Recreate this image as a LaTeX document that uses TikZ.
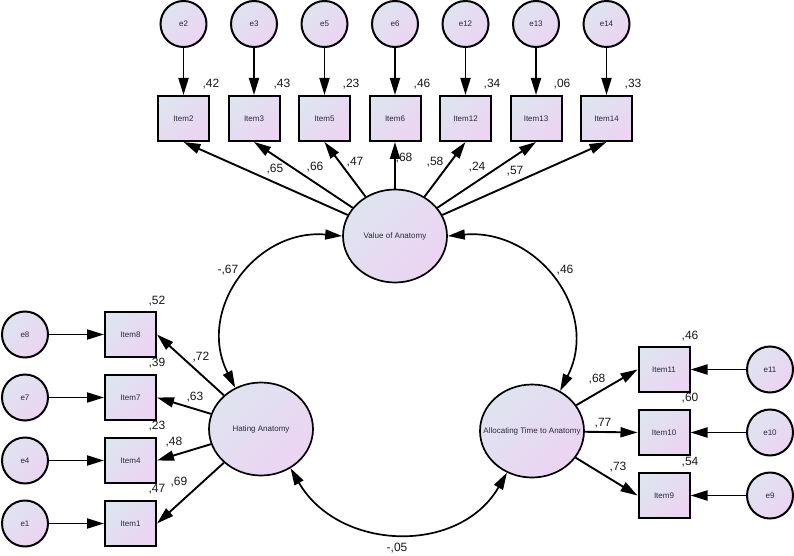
\documentclass[tikz,border=0pt]{standalone}
\usepackage{fontspec}
\setmainfont{Liberation Sans}
\usetikzlibrary{shapes.geometric,arrows.meta}
\definecolor{ga}{RGB}{222,228,240}
\definecolor{gb}{RGB}{236,212,242}
\definecolor{txt}{RGB}{40,40,60}
\tikzset{
 grad/.style={top color=ga,bottom color=gb,shading angle=45},
 obs/.style={grad,draw=black,line width=2pt,rectangle,minimum width=51pt,minimum height=45pt,inner sep=0pt,font=\fontsize{8}{9}\selectfont,text=txt},
 err/.style={grad,draw=black,line width=2pt,circle,minimum size=46pt,inner sep=0pt,font=\fontsize{8}{9}\selectfont,text=txt},
 lat/.style={grad,draw=black,line width=1.7pt,ellipse,minimum width=104pt,minimum height=93pt,inner sep=0pt},
 lattext/.style={font=\fontsize{8}{9}\selectfont,text=txt,inner sep=0pt},
 arr/.style={line width=1.9pt,-{Triangle[length=17pt,width=10pt]}},
 cov/.style={line width=1.7pt,{Triangle[length=17pt,width=10pt]}-{Triangle[length=17pt,width=10pt]}},
 num/.style={font=\fontsize{12}{14}\selectfont,text=black!90,inner sep=0pt},
}
\begin{document}
\begin{tikzpicture}[x=1pt,y=1pt]
\useasboundingbox[fill=white] (0,0) rectangle (794,-556);
% latent variables
\node[lat,label={[lattext]center:Value of Anatomy}] (val) at (395,-236) {};
\node[lat,label={[lattext]center:Hating Anatomy}] (hat) at (261,-429) {};
\node[lat,label={[lattext]center:Allocating Time to Anatomy}] (alo) at (532,-431) {};
% top items
\foreach \n/\x in {2/183.5,3/254,5/324.5,6/395,12/465.5,13/536,14/606.5}{
  \node[err] (e\n) at (\x,-24) {e\n};
  \node[obs] (i\n) at (\x,-118.5) {Item\n};
  \draw[arr] (e\n) -- (i\n);
  \draw[arr] (val) -- (i\n.south);
}
% left items
\foreach \n/\y in {8/334.5,7/397.5,4/460.5,1/523.5}{
  \node[err] (e\n) at (25,-\y) {e\n};
  \node[obs] (i\n) at (130.5,-\y) {Item\n};
  \draw[arr] (e\n) -- (i\n);
  \draw[arr] (hat) -- (i\n.east);
}
% right items
\foreach \n/\y in {11/369.5,10/432.5,9/495.5}{
  \node[err] (e\n) at (770,-\y) {e\n};
  \node[obs] (i\n) at (664,-\y) {Item\n};
  \draw[arr] (e\n) -- (i\n);
  \draw[arr] (alo) -- (i\n.west);
}
% covariances
\draw[cov] (val.west) to[out=175,in=117,looseness=1.2] (hat.122);
\draw[cov] (val.east) to[out=5,in=63,looseness=1.2] (alo.55);
\draw[cov] (hat.-53) to[out=-60,in=-120,looseness=1.13] (alo.-121);
% squared multiple correlations
\node[num] (r2) at (211,-84) {,42};
\node[num] (r3) at (282,-84) {,43};
\node[num] (r5) at (351,-84) {,23};
\node[num] (r6) at (422,-84) {,46};
\node[num] (r12) at (492,-84) {,34};
\node[num] (r13) at (562,-84) {,06};
\node[num] (r14) at (633,-84) {,33};
\node[num] (r8) at (157,-301) {,52};
\node[num] (r7) at (157,-363) {,39};
\node[num] (r4) at (157,-426) {,23};
\node[num] (r1) at (157,-489) {,47};
\node[num] (r11) at (690,-336) {,46};
\node[num] (r10) at (690,-398) {,60};
\node[num] (r9) at (690,-462) {,54};
% loadings
\node[num] (l2) at (275,-169) {,65};
\node[num] (l3) at (315,-167) {,66};
\node[num] (l5) at (355,-162) {,47};
\node[num] (l6) at (404,-158) {,68};
\node[num] (l12) at (435,-162) {,58};
\node[num] (l13) at (477,-167) {,24};
\node[num] (l14) at (515,-171) {,57};
\node[num] (l8) at (201,-357) {,72};
\node[num] (l7) at (195,-397) {,63};
\node[num] (l4) at (174,-442) {,48};
\node[num] (l1) at (179,-482) {,69};
\node[num] (l11) at (597,-379) {,68};
\node[num] (l10) at (603,-423) {,77};
\node[num] (l9) at (618,-467) {,73};
% covariance values
\node[num] (c1) at (228,-270) {-,67};
\node[num] (c2) at (565,-270) {,46};
\node[num] (c3) at (397,-548) {-,05};
\end{tikzpicture}
\end{document}
